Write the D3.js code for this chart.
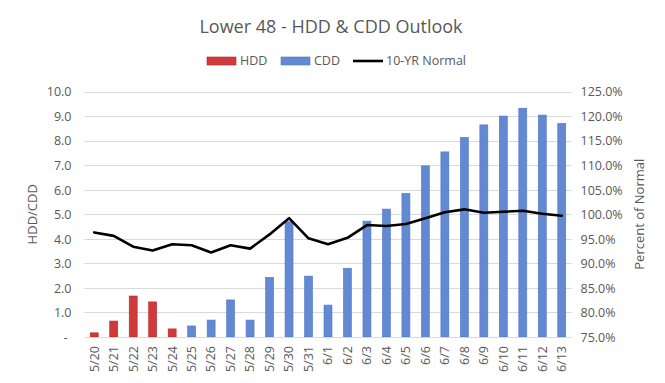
<!DOCTYPE html>
<html><head><meta charset="utf-8">
<script src="https://cdn.jsdelivr.net/npm/d3@7"></script>
<style>
html,body{margin:0;padding:0;background:#fff;}
svg text{font-family:"Open Sans","Noto Sans",sans-serif;fill:#595959;}
</style></head>
<body><svg id="c" width="665" height="383"></svg>
<script>
const dates = ["5/20","5/21","5/22","5/23","5/24","5/25","5/26","5/27","5/28","5/29","5/30","5/31","6/1","6/2","6/3","6/4","6/5","6/6","6/7","6/8","6/9","6/10","6/11","6/12","6/13"];
const hdd = [0.17,0.65,1.67,1.43,0.33,0,0,0,0,0,0,0,0,0,0,0,0,0,0,0,0,0,0,0,0];
const cdd = [0,0,0,0,0,0.45,0.69,1.51,0.69,2.43,4.70,2.48,1.30,2.80,4.72,5.21,5.85,6.97,7.54,8.13,8.64,9.00,9.32,9.04,8.70];
const normalPct = [96.3,95.6,93.4,92.6,93.9,93.7,92.2,93.7,93.0,95.9,99.2,95.1,93.9,95.2,97.8,97.6,98.0,99.2,100.4,101.0,100.3,100.5,100.7,100.1,99.7];
const leftTicks = [0,1,2,3,4,5,6,7,8,9,10];
const rightTicks = [75,80,85,90,95,100,105,110,115,120,125];

const svg = d3.select("#c");
const L = 84.5, R = 571.5, T = 91.5, B = 337;
const x = d3.scaleBand().domain(dates).range([L, R]).paddingInner(0.59).paddingOuter(0.295);
const y = d3.scaleLinear().domain([0, 10]).range([B, T]);
const y2 = d3.scaleLinear().domain([75, 125]).range([B, T]);

// gridlines
svg.append("g").selectAll("line").data(leftTicks).join("line")
  .attr("x1", L).attr("x2", R).attr("y1", d => Math.round(y(d)) + 0.5).attr("y2", d => Math.round(y(d)) + 0.5)
  .attr("stroke", "#d9d9d9").attr("stroke-width", 1);

// left axis
const la = svg.append("g").attr("transform", `translate(${L - 13},0)`)
  .call(d3.axisLeft(y).tickValues(leftTicks).tickSize(0).tickPadding(0).tickFormat(d => d === 0 ? "-" : d3.format(".1f")(d)));
la.select(".domain").remove();
la.selectAll("text").attr("font-size", 12.5).attr("dy", "0.35em").attr("dx", d => d === 0 ? -4 : 0);

// right axis
const ra = svg.append("g").attr("transform", `translate(${R + 9},0)`)
  .call(d3.axisRight(y2).tickValues(rightTicks).tickSize(0).tickPadding(0).tickFormat(d => d3.format(".1f")(d) + "%"));
ra.select(".domain").remove();
ra.selectAll("text").attr("font-size", 12.5).attr("dy", "0.35em");

// bars
const cx = d => x(d) + x.bandwidth() / 2;
svg.append("g").selectAll("rect").data(dates.map((d, i) => ({d, v: hdd[i]})).filter(e => e.v > 0)).join("rect")
  .attr("x", e => x(e.d)).attr("width", x.bandwidth())
  .attr("y", e => y(e.v)).attr("height", e => B - y(e.v))
  .attr("fill", "#d13a3a").attr("stroke", "#b52a2c").attr("stroke-width", 0.6);
svg.append("g").selectAll("rect").data(dates.map((d, i) => ({d, v: cdd[i]})).filter(e => e.v > 0)).join("rect")
  .attr("x", e => x(e.d)).attr("width", x.bandwidth())
  .attr("y", e => y(e.v)).attr("height", e => B - y(e.v))
  .attr("fill", "#6389d3").attr("stroke", "#4f77c6").attr("stroke-width", 0.6);

// axis baseline
svg.append("line").attr("x1", L).attr("x2", R).attr("y1", B + 0.5).attr("y2", B + 0.5).attr("stroke", "#d9d9d9");

// line
const line = d3.line().x((d, i) => cx(dates[i])).y(d => y2(d));
svg.append("path").datum(normalPct).attr("d", line).attr("fill", "none")
  .attr("stroke", "#000").attr("stroke-width", 2.6).attr("stroke-linejoin", "round").attr("stroke-linecap", "round");

// x labels
const xa = svg.append("g").attr("transform", `translate(0,${B})`)
  .call(d3.axisBottom(x).tickSize(0).tickPadding(0));
xa.select(".domain").remove();
xa.selectAll("text").attr("font-size", 12.5).attr("text-anchor", "end")
  .attr("transform", "rotate(-90)").attr("x", -9).attr("y", 0).attr("dy", "0.35em");

// axis titles
svg.append("text").attr("transform", `translate(37,${(T + B) / 2}) rotate(-90)`)
  .attr("text-anchor", "middle").attr("font-size", 13).text("HDD/CDD");
svg.append("text").attr("transform", `translate(644,${(T + B) / 2}) rotate(-90)`)
  .attr("text-anchor", "middle").attr("font-size", 13).text("Percent of Normal");

// title
svg.append("text").attr("x", 331).attr("y", 33).attr("text-anchor", "middle")
  .attr("font-size", 18).text("Lower 48 - HDD & CDD Outlook");

// legend
const lg = svg.append("g");
const legendItems = [
  {name: "HDD", type: "rect", fill: "#d13a3a", stroke: "#b52a2c", x: 207},
  {name: "CDD", type: "rect", fill: "#6389d3", stroke: "#4f77c6", x: 281},
  {name: "10-YR Normal", type: "line", x: 353}
];
legendItems.forEach(it => {
  if (it.type === "rect") {
    lg.append("rect").attr("x", it.x).attr("y", 57).attr("width", 29).attr("height", 8)
      .attr("fill", it.fill).attr("stroke", it.stroke).attr("stroke-width", 0.6);
  } else {
    lg.append("line").attr("x1", it.x).attr("x2", it.x + 30).attr("y1", 61).attr("y2", 61)
      .attr("stroke", "#000").attr("stroke-width", 2.6);
  }
  lg.append("text").attr("x", it.x + 33).attr("y", 61).attr("dy", "0.35em").attr("font-size", 12.5).text(it.name);
});
</script></body></html>
